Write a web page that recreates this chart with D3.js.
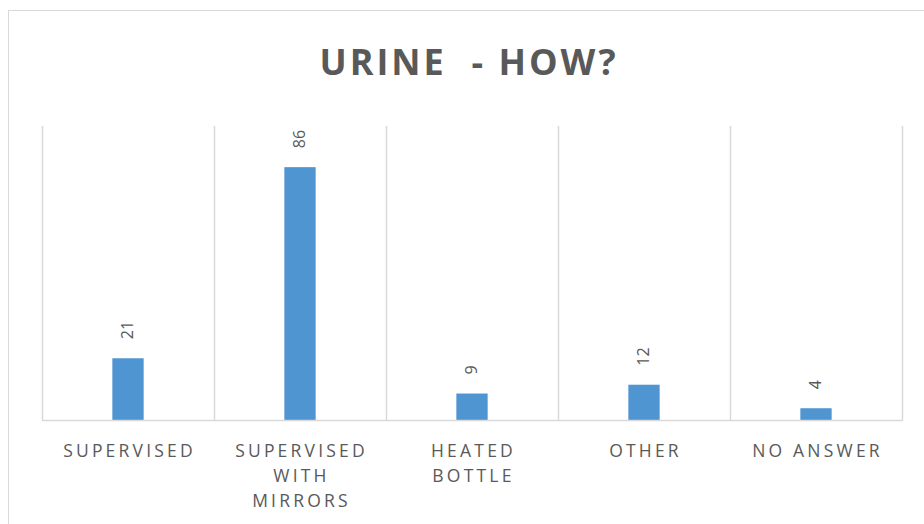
<!DOCTYPE html>
<html>
<head>
<meta charset="utf-8">
<script src="https://cdn.jsdelivr.net/npm/d3@7"></script>
<style>
  body { margin: 0; background: #fff; }
  text { font-family: "Open Sans", sans-serif; fill: #595959; }
</style>
</head>
<body>
<div id="chart"></div>
<script>
// Chart data
const categories = ["SUPERVISED", "SUPERVISED WITH MIRRORS", "HEATED BOTTLE", "OTHER", "NO ANSWER"];
const labelLines = [["SUPERVISED"], ["SUPERVISED", "WITH", "MIRRORS"], ["HEATED", "BOTTLE"], ["OTHER"], ["NO ANSWER"]];
const values = [21, 86, 9, 12, 4];
const yDomain = [0, 100];

const width = 924, height = 524;
const plot = { left: 42, right: 902, top: 126, bottom: 420 };

const svg = d3.select("#chart")
    .append("svg")
    .attr("width", width)
    .attr("height", height);

// Outer chart border (cut off at right and bottom)
svg.append("rect")
    .attr("x", 8.5).attr("y", 10.5)
    .attr("width", 930).attr("height", 530)
    .attr("fill", "none")
    .attr("stroke", "#d9d9d9");

// Title
svg.append("text")
    .attr("x", 469)
    .attr("y", 75)
    .attr("text-anchor", "middle")
    .style("font-size", "36px")
    .style("font-weight", "bold")
    .style("letter-spacing", "3px")
    .style("white-space", "pre")
    .text("URINE  - HOW?");

// Scales
const x = d3.scaleBand()
    .domain(categories)
    .range([plot.left, plot.right])
    .padding(0);

const y = d3.scaleLinear()
    .domain(yDomain)
    .range([plot.bottom, plot.top]);

const barW = x.bandwidth() * 0.182;

// Vertical gridlines at category boundaries
const bounds = categories.map(c => x(c)).concat([x.range()[1]]);
svg.append("g")
    .selectAll("line")
    .data(bounds)
    .enter()
    .append("line")
    .attr("x1", d => Math.round(d) + 0.5)
    .attr("x2", d => Math.round(d) + 0.5)
    .attr("y1", plot.top)
    .attr("y2", plot.bottom)
    .attr("stroke", "#d9d9d9")
    .attr("stroke-width", 1.5);

// Bars
svg.append("g")
    .selectAll("rect")
    .data(values)
    .enter()
    .append("rect")
    .attr("x", (d, i) => x(categories[i]) + x.bandwidth() / 2 - barW / 2)
    .attr("y", d => y(d))
    .attr("width", barW)
    .attr("height", d => y(0) - y(d))
    .attr("fill", "#4e95d1");

// X axis line
svg.append("line")
    .attr("x1", plot.left)
    .attr("x2", plot.right + 1)
    .attr("y1", plot.bottom + 0.5)
    .attr("y2", plot.bottom + 0.5)
    .attr("stroke", "#d9d9d9")
    .attr("stroke-width", 1.5);

// Value labels, rotated
svg.append("g")
    .selectAll("text")
    .data(values)
    .enter()
    .append("text")
    .attr("transform", (d, i) => {
        const cx = x(categories[i]) + x.bandwidth() / 2;
        return `translate(${cx + 5},${y(d) - 19}) rotate(-90)`;
    })
    .attr("text-anchor", "start")
    .style("font-size", "16px")
    .text(d => d);

// Category labels
const lab = svg.append("g")
    .selectAll("text")
    .data(labelLines)
    .enter()
    .append("text")
    .attr("text-anchor", "middle")
    .style("font-size", "17.5px")
    .style("letter-spacing", "3.2px");

lab.selectAll("tspan")
    .data((d, i) => d.map(t => ({ t, i })))
    .enter()
    .append("tspan")
    .attr("x", d => x(categories[d.i]) + x.bandwidth() / 2 + 1.5)
    .attr("y", (d, j) => 457 + j * 25)
    .text(d => d.t);
</script>
</body>
</html>
